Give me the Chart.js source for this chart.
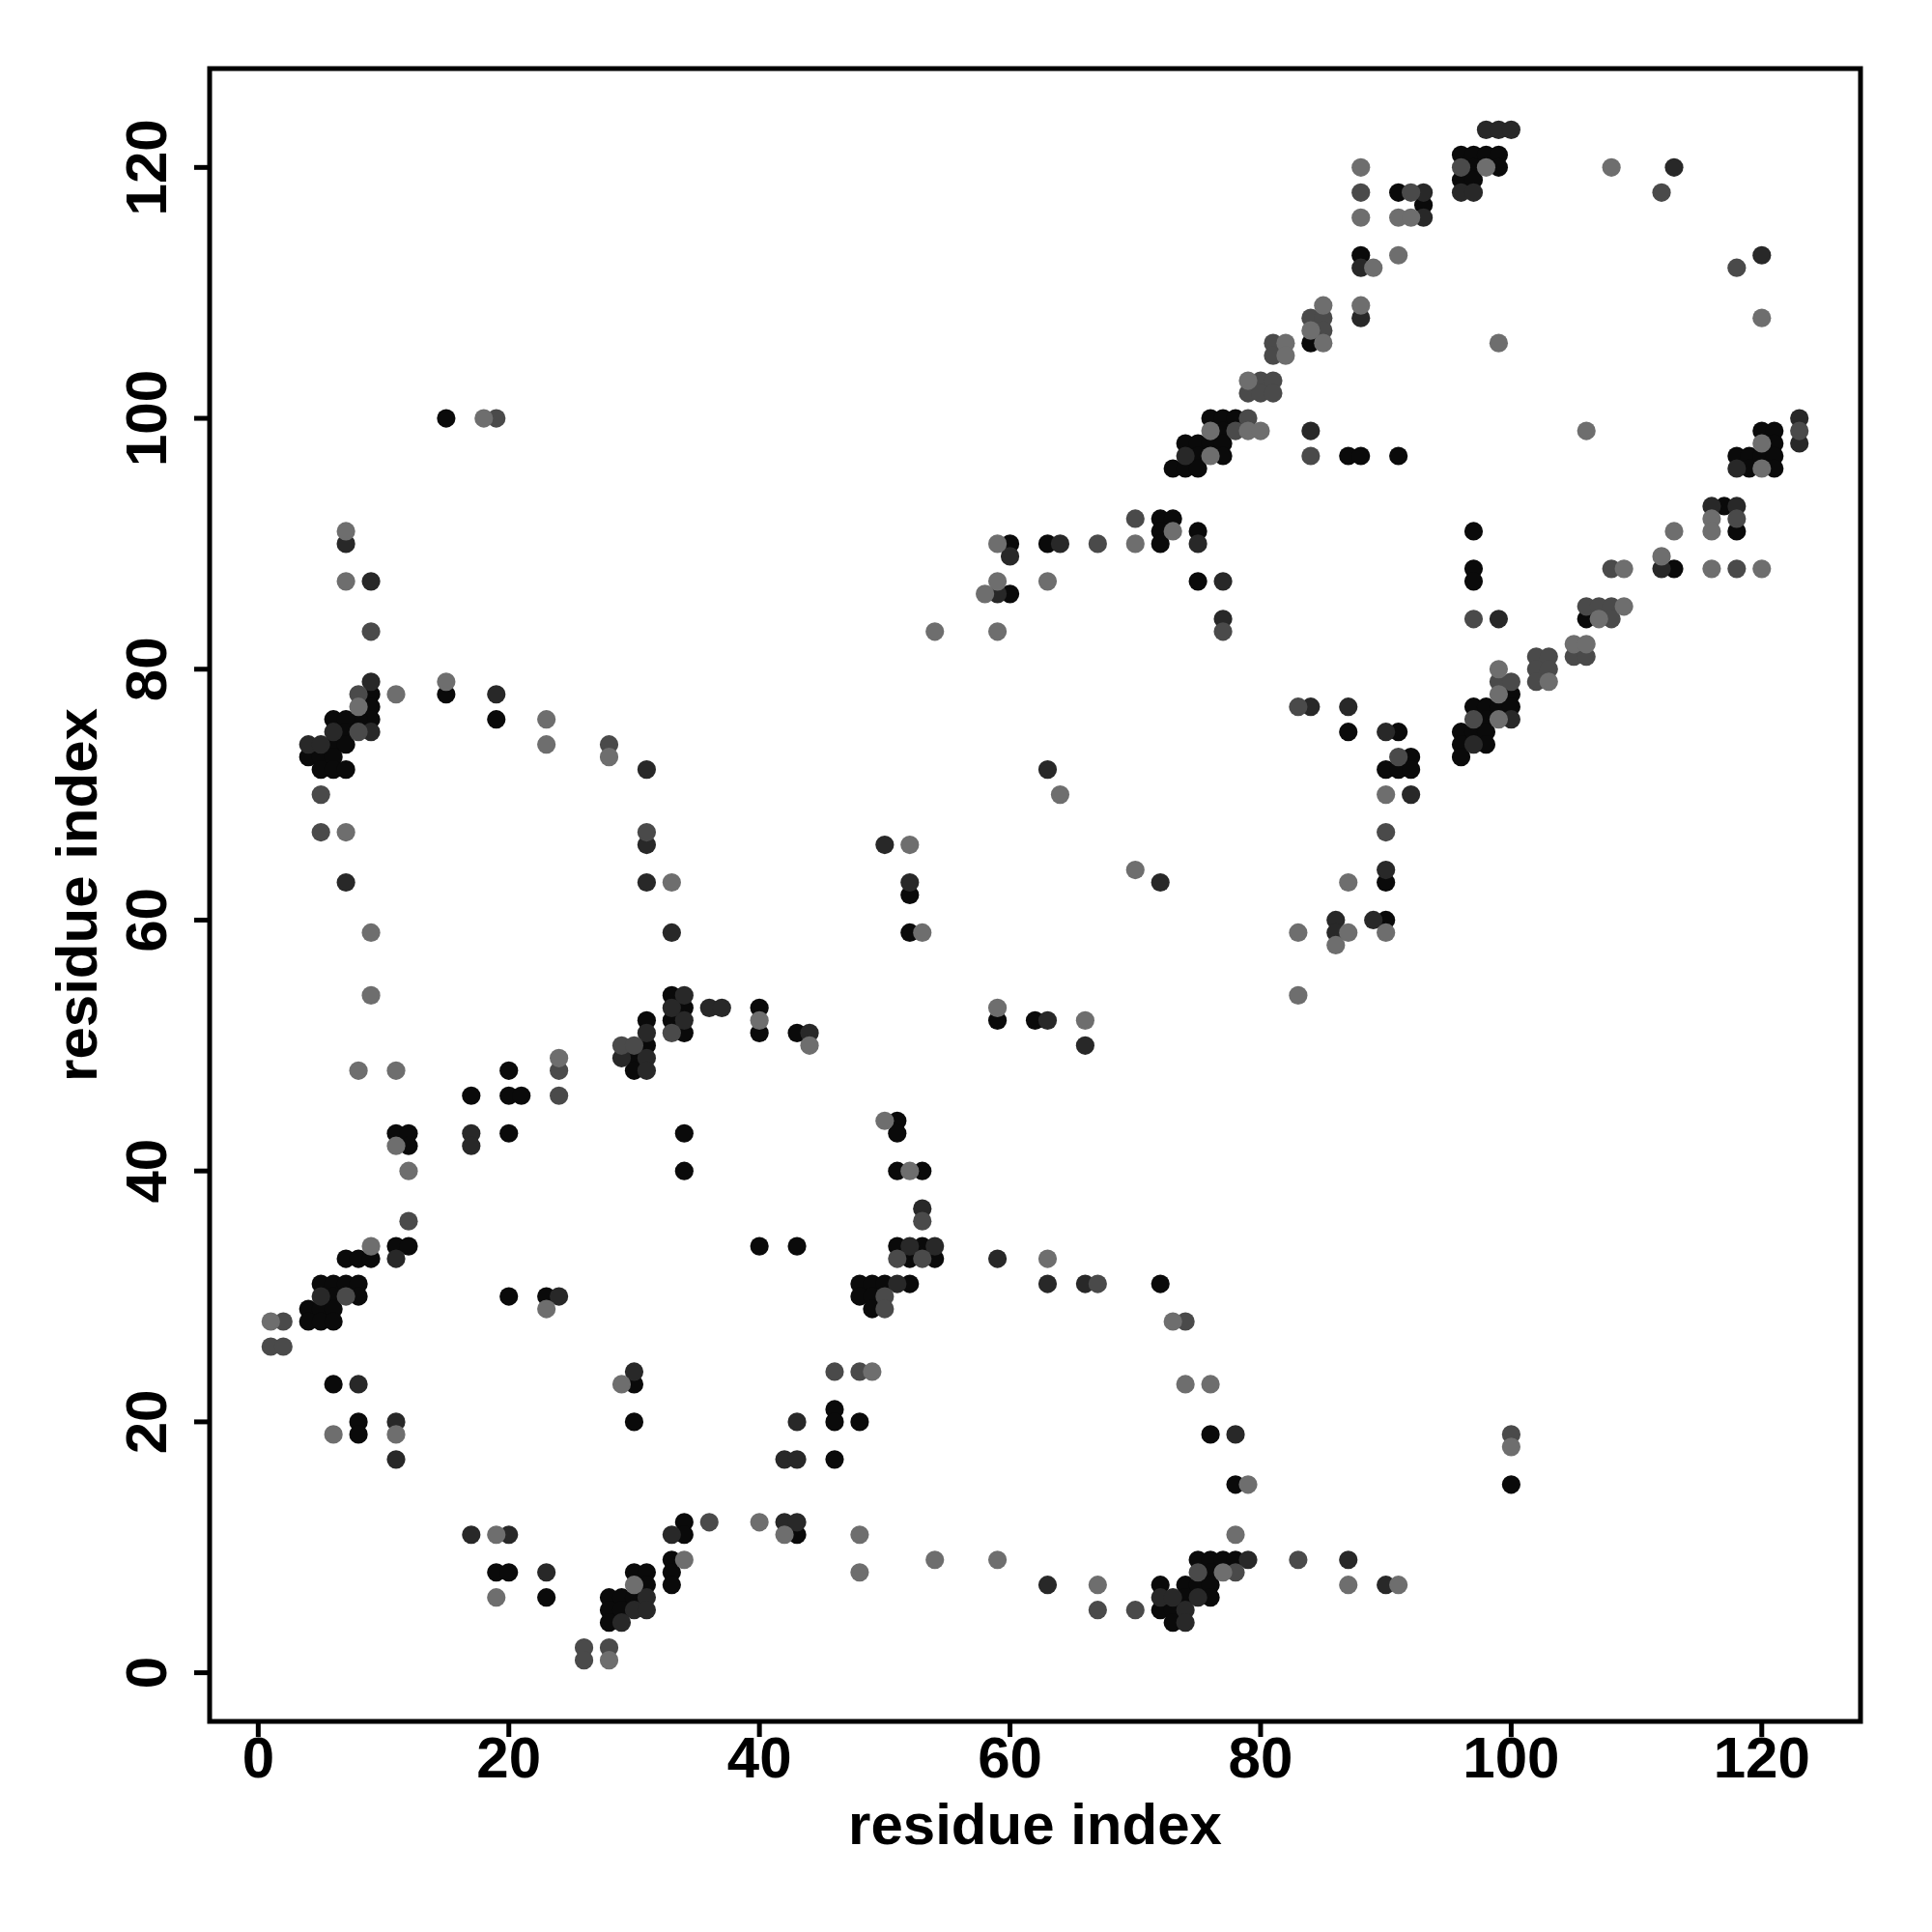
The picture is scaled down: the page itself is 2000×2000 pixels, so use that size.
<!DOCTYPE html>
<html>
<head>
<meta charset="utf-8">
<script src="https://cdn.jsdelivr.net/npm/chart.js@4.4.1/dist/chart.umd.min.js"></script>
<style>
  html, body { margin: 0; padding: 0; background: #ffffff; }
  #wrap { width: 2000px; height: 2000px; }
</style>
</head>
<body>
<div id="wrap"><canvas id="contactMap" width="2000" height="2000"></canvas></div>
<script>
// contacts, grouped by shade: [i, j]
const contactsBlack = [
  [15,100],[84,106],[76,100],[77,100],[78,100],[77,99],[74,98],[75,98],[76,98],[77,98],[75,97],[77,97],[73,96],[74,96],[75,96],
  [96,121],[97,121],[98,121],[99,121],[97,120],[99,120],[96,119],[97,119],[91,118],[93,117],[88,113],[87,97],[88,97],[91,97],
  [120,99],[121,99],[121,98],[118,97],[119,97],[120,97],[121,97],[119,96],[121,96],
  [9,78],[9,77],[9,76],[8,76],[15,78],[19,76],[6,76],[7,76],[7,75],[6,74],[7,74],[4,73],[5,73],[6,73],[5,72],[6,72],[7,72],
  [72,92],[73,92],[72,91],[75,91],[72,90],[60,90],[63,90],[60,86],[75,87],[52,62],
  [117,93],[118,91],[113,88],[97,91],[97,88],[97,87],[106,84],[100,78],[97,77],[98,77],[99,77],[100,77],[98,76],
  [96,75],[97,75],[98,75],[96,74],[98,74],[96,73],[87,75],[91,75],[92,73],[90,72],[91,72],[92,72],[90,63],
  [33,54],[34,53],[33,52],[34,51],[40,53],[40,51],[31,52],[31,50],[30,49],[30,48],[20,48],[17,46],[20,46],[21,46],
  [11,43],[12,43],[12,42],[20,43],[34,43],[34,40],[11,34],[12,34],[7,33],[8,33],[9,33],[40,34],
  [5,31],[6,31],[7,31],[8,31],[6,30],[8,30],[4,29],[5,29],[6,29],[20,30],[23,30],
  [52,59],[43,51],[59,52],[62,52],[51,44],[51,43],[51,40],[53,40],[43,34],[51,34],[53,34],[52,33],[54,33],
  [48,31],[49,31],[50,31],[52,31],[48,30],[49,30],[49,29],[72,31],[90,60],
  [4,28],[5,28],[6,28],[6,23],[8,20],[8,19],[30,23],[30,20],[19,8],[20,8],[23,6],[30,8],[31,8],[31,7],
  [28,6],[29,6],[30,6],[28,5],[29,5],[28,4],[34,12],[34,11],[33,9],[33,8],[33,7],
  [46,21],[46,20],[48,20],[46,17],[76,19],[78,15],[43,11],[75,9],[76,9],[77,9],[78,9],[76,8],
  [72,7],[74,7],[75,7],[76,7],[74,6],[76,6],[72,5],[73,5],[73,4],[100,15]
]
const contactsDark = [
  [74,97],[84,99],[98,123],[99,123],[100,123],[96,118],[97,118],[93,118],[93,116],[88,112],[88,108],[113,120],[120,113],
  [123,100],[123,98],[118,96],
  [7,90],[9,87],[9,79],[9,75],[19,78],[31,72],[31,66],[31,63],[6,75],[4,74],[5,74],[7,63],
  [75,90],[60,89],[64,90],[59,86],[77,87],[77,84],[84,77],[63,72],[50,66],[52,63],[72,63],
  [116,93],[118,93],[112,88],[99,84],[100,76],[97,74],[87,77],[90,75],[92,70],[90,64],
  [33,59],[34,54],[33,53],[34,52],[36,53],[37,53],[31,51],[31,49],[31,48],[29,49],[17,43],[17,42],[11,33],[5,30],[24,30],
  [44,51],[63,52],[66,50],[53,37],[52,34],[54,34],[59,33],[51,31],[63,31],[66,31],
  [86,60],[86,59],[89,60],
  [8,23],[11,20],[11,17],[30,24],[17,11],[20,11],[23,8],[31,6],[30,5],[31,5],[29,4],[33,11],
  [78,19],[43,20],[42,17],[43,17],[42,12],[43,12],[79,9],[63,7],[72,6],[73,6],[75,6],[74,5],[74,4],
  [87,9],[90,7]
]
const contactsDarkGray = [
  [19,100],[84,108],[81,106],[81,105],[80,103],[81,103],[79,102],[80,102],[81,102],[79,100],[78,99],[84,97],
  [96,120],[88,118],[92,118],[85,108],[85,107],[112,118],[118,112],[123,99],
  [9,83],[8,78],[8,75],[28,74],[31,67],[5,70],[5,67],
  [70,92],[67,90],[77,83],[83,77],
  [118,92],[108,88],[118,88],[97,84],[106,85],[107,85],[108,85],[108,84],[105,81],[106,81],[102,81],[103,81],
  [102,80],[103,80],[102,79],[99,79],[100,79],[97,76],[91,73],[90,67],
  [33,51],[29,50],[30,50],[24,48],[24,46],[12,36],[7,30],
  [53,36],[51,33],[53,33],[50,30],[50,29],[67,31],
  [2,28],[1,26],[2,26],[26,2],[26,1],[28,2],[36,12],
  [74,28],[46,24],[48,24],[83,9],[75,8],[78,8],[67,5],[70,5],[100,19]
]
const contactsGray = [
  [18,100],[85,109],[84,107],[82,106],[82,105],[79,103],[76,99],[79,99],[80,99],[76,97],
  [98,120],[88,120],[88,116],[91,116],[92,116],[89,112],[91,113],[85,106],[88,109],[99,106],[108,120],[120,108],
  [106,99],[120,98],[120,96],
  [7,91],[7,87],[8,77],[11,78],[15,79],[23,76],[23,74],[28,73],[33,63],[7,67],
  [73,91],[70,90],[59,90],[59,87],[58,86],[63,87],[54,83],[59,83],[64,70],[52,66],[70,64],
  [116,92],[116,91],[113,91],[112,89],[109,88],[116,88],[120,88],[109,85],[107,84],[105,82],[106,82],[103,79],
  [99,80],[99,78],[99,76],[90,70],[87,63],
  [9,59],[9,54],[40,52],[8,48],[11,48],[24,49],[11,42],[12,40],[9,34],[23,29],
  [53,59],[83,59],[83,54],[44,50],[59,53],[66,52],[50,44],[52,40],[63,33],
  [87,59],[86,58],[90,59],
  [1,28],[6,19],[11,19],[29,23],[19,11],[19,6],[28,1],[30,7],[34,9],[40,12],
  [73,28],[49,24],[74,23],[76,23],[79,15],[42,11],[48,11],[48,8],[54,9],[59,9],[78,11],[77,8],[67,7],
  [100,18],[87,7],[91,7]
]

const xTicks = [0, 20, 40, 60, 80, 100, 120]
const yTicks = [0, 20, 40, 60, 80, 100, 120]
const xTitle = "residue index"
const yTitle = "residue index"

const axisMin = -3.88
const axisMax = 127.88
const FONT = "bold 60px 'Liberation Sans', Arial, Helvetica, sans-serif"

const toPoints = (list) => list.map(([i, j]) => ({ x: i, y: j }))

const makeSet = (list, color) => ({
  data: toPoints(list),
  backgroundColor: color,
  borderWidth: 0,
  pointRadius: 9.6,
  pointHoverRadius: 9.6,
})

// box, ticks and labels drawn the R way
const framePlugin = {
  id: "frame",
  afterDraw(chart) {
    const { ctx, chartArea: a, scales } = chart
    const x = scales.x
    const y = scales.y
    ctx.save()
    ctx.strokeStyle = "#000"
    ctx.fillStyle = "#000"
    ctx.lineWidth = 5
    ctx.strokeRect(a.left, a.top, a.right - a.left, a.bottom - a.top)

    ctx.font = FONT
    ctx.textAlign = "center"
    ctx.textBaseline = "alphabetic"
    xTicks.forEach((v) => {
      const px = x.getPixelForValue(v)
      ctx.beginPath()
      ctx.moveTo(px, a.bottom)
      ctx.lineTo(px, a.bottom + 16)
      ctx.stroke()
      ctx.fillText(String(v), px, a.bottom + 58)
    })
    yTicks.forEach((v) => {
      const py = y.getPixelForValue(v)
      ctx.beginPath()
      ctx.moveTo(a.left, py)
      ctx.lineTo(a.left - 16, py)
      ctx.stroke()
      ctx.save()
      ctx.translate(a.left - 45, py)
      ctx.rotate(-Math.PI / 2)
      ctx.fillText(String(v), 0, 0)
      ctx.restore()
    })

    // axis titles
    ctx.fillText(xTitle, (a.left + a.right) / 2, 1909)
    ctx.save()
    ctx.translate(100, (a.top + a.bottom) / 2)
    ctx.rotate(-Math.PI / 2)
    ctx.fillText(yTitle, 0, 0)
    ctx.restore()
    ctx.restore()
  },
}

const ctx = document.getElementById("contactMap").getContext("2d")
const contactChart = new Chart(ctx, {
  type: "scatter",
  data: {
    datasets: [
      makeSet(contactsGray, "#6e6e6e"),
      makeSet(contactsDarkGray, "#4a4a4a"),
      makeSet(contactsDark, "#282828"),
      makeSet(contactsBlack, "#0a0a0a"),
    ],
  },
  options: {
    responsive: false,
    animation: false,
    devicePixelRatio: 1,
    layout: { padding: { left: 0, top: 71, right: 74, bottom: 0 } },
    scales: {
      x: {
        type: "linear",
        min: axisMin,
        max: axisMax,
        grid: { display: false },
        border: { display: false },
        ticks: { display: false },
        afterFit: (scale) => { scale.height = 2000 - 1782 },
      },
      y: {
        type: "linear",
        min: axisMin,
        max: axisMax,
        grid: { display: false },
        border: { display: false },
        ticks: { display: false },
        afterFit: (scale) => { scale.width = 217 },
      },
    },
    plugins: {
      legend: { display: false },
      tooltip: { enabled: false },
    },
  },
  plugins: [framePlugin],
})
</script>
</body>
</html>
